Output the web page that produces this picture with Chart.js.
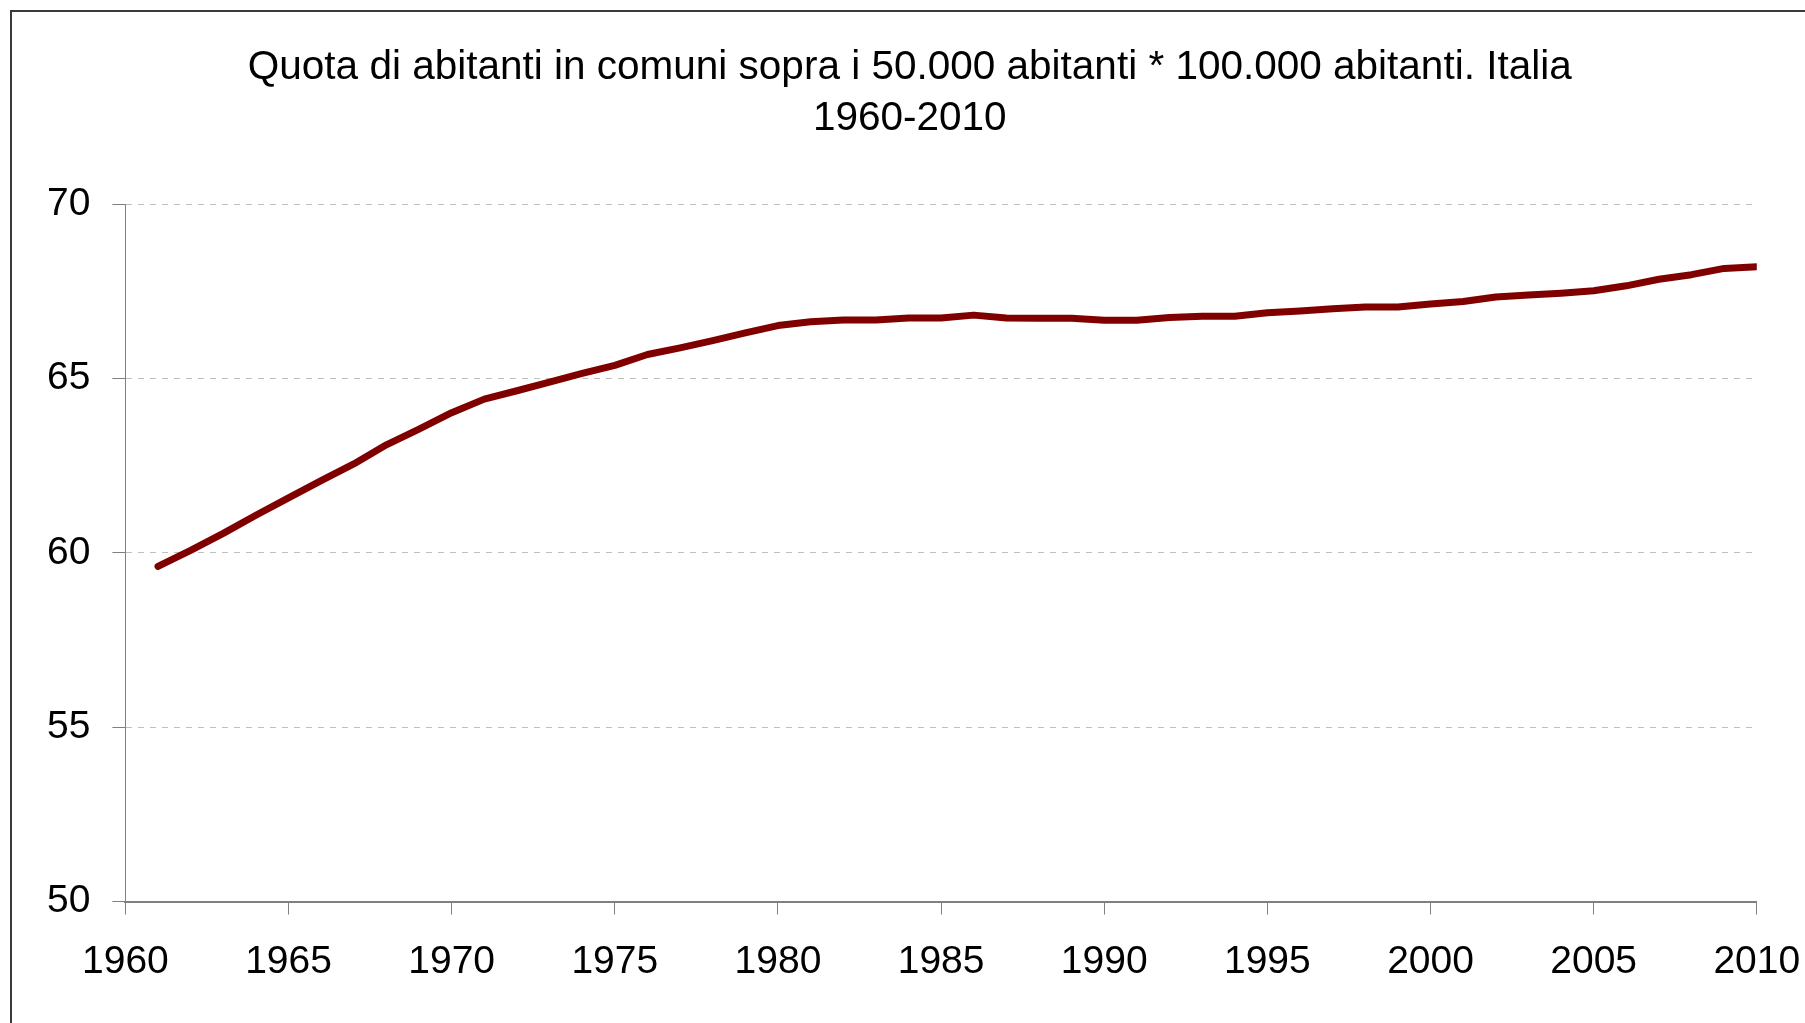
<!DOCTYPE html>
<html>
<head>
<meta charset="utf-8">
<script src="https://cdn.jsdelivr.net/npm/chart.js@4.4.0/dist/chart.umd.min.js"></script>
<style>
  html, body { margin: 0; padding: 0; background: #fff; overflow: hidden; }
  #frame { position: absolute; left: 10px; top: 10px; width: 1820px; height: 1040px;
           border-left: 2px solid #3a3a3a; border-top: 2px solid #3a3a3a; }
  #wrap { position: absolute; left: 0; top: 0; width: 1805px; height: 1023px; }
</style>
</head>
<body>
<div id="frame"></div>
<div id="wrap"><canvas id="chart"></canvas></div>
<script>
const years = [1961, 1962, 1963, 1964, 1965, 1966, 1967, 1968, 1969, 1970,
  1971, 1972, 1973, 1974, 1975, 1976, 1977, 1978, 1979, 1980,
  1981, 1982, 1983, 1984, 1985, 1986, 1987, 1988, 1989, 1990,
  1991, 1992, 1993, 1994, 1995, 1996, 1997, 1998, 1999, 2000,
  2001, 2002, 2003, 2004, 2005, 2006, 2007, 2008, 2009, 2010];
const quota = [59.61, 60.07, 60.56, 61.08, 61.58, 62.07, 62.55, 63.10, 63.55, 64.02,
  64.41, 64.65, 64.90, 65.15, 65.38, 65.69, 65.88, 66.09, 66.31, 66.52,
  66.63, 66.68, 66.68, 66.74, 66.74, 66.82, 66.74, 66.73, 66.73, 66.67,
  66.67, 66.75, 66.79, 66.79, 66.89, 66.94, 67.00, 67.05, 67.05, 67.14,
  67.21, 67.34, 67.40, 67.45, 67.52, 67.66, 67.85, 67.98, 68.16, 68.21];
const titleLines = ['Quota di abitanti in comuni sopra i 50.000 abitanti * 100.000 abitanti. Italia', '1960-2010'];

const font = 'Liberation Sans, Arial, sans-serif';

const chart = new Chart(document.getElementById('chart'), {
  type: 'line',
  data: {
    datasets: [{
      data: years.map((y, i) => ({ x: y, y: quota[i] })),
      borderColor: '#800000',
      borderWidth: 7,
      borderCapStyle: 'round',
      borderJoinStyle: 'round',
      pointRadius: 0,
      tension: 0,
      fill: false
    }]
  },
  options: {
    responsive: true,
    maintainAspectRatio: false,
    animation: false,
    layout: { padding: { left: 25, right: 10.5, top: 0, bottom: 12.7 } },
    plugins: {
      legend: { display: false },
      tooltip: { enabled: false },
      title: {
        display: true,
        text: titleLines,
        color: '#000',
        font: { family: font, size: 40.5, weight: 'normal', lineHeight: 1.25 },
        padding: { top: 43, bottom: 60 }
      }
    },
    scales: {
      x: {
        type: 'linear',
        min: 1960,
        max: 2010,
        ticks: {
          stepSize: 5,
          color: '#000',
          padding: 24.5,
          maxRotation: 0,
          font: { family: font, size: 39 },
          callback: v => String(v)
        },
        grid: { drawOnChartArea: false, drawTicks: true, tickLength: 13, tickColor: '#808080', tickWidth: 1 },
        border: { display: true, color: '#808080', width: 2 },
        // keep the plot's right edge where the reference has it
        afterFit: scale => { scale.paddingRight = 48.2; }
      },
      y: {
        min: 50,
        max: 70,
        ticks: {
          stepSize: 5,
          color: '#000',
          padding: 22,
          font: { family: font, size: 39 }
        },
        grid: { color: '#c0c0c0', lineWidth: 1, tickLength: 13, tickColor: '#808080', tickBorderDash: [] },
        border: { display: true, color: '#808080', width: 1, dash: [6, 6] }
      }
    }
  }
});
</script>
</body>
</html>
